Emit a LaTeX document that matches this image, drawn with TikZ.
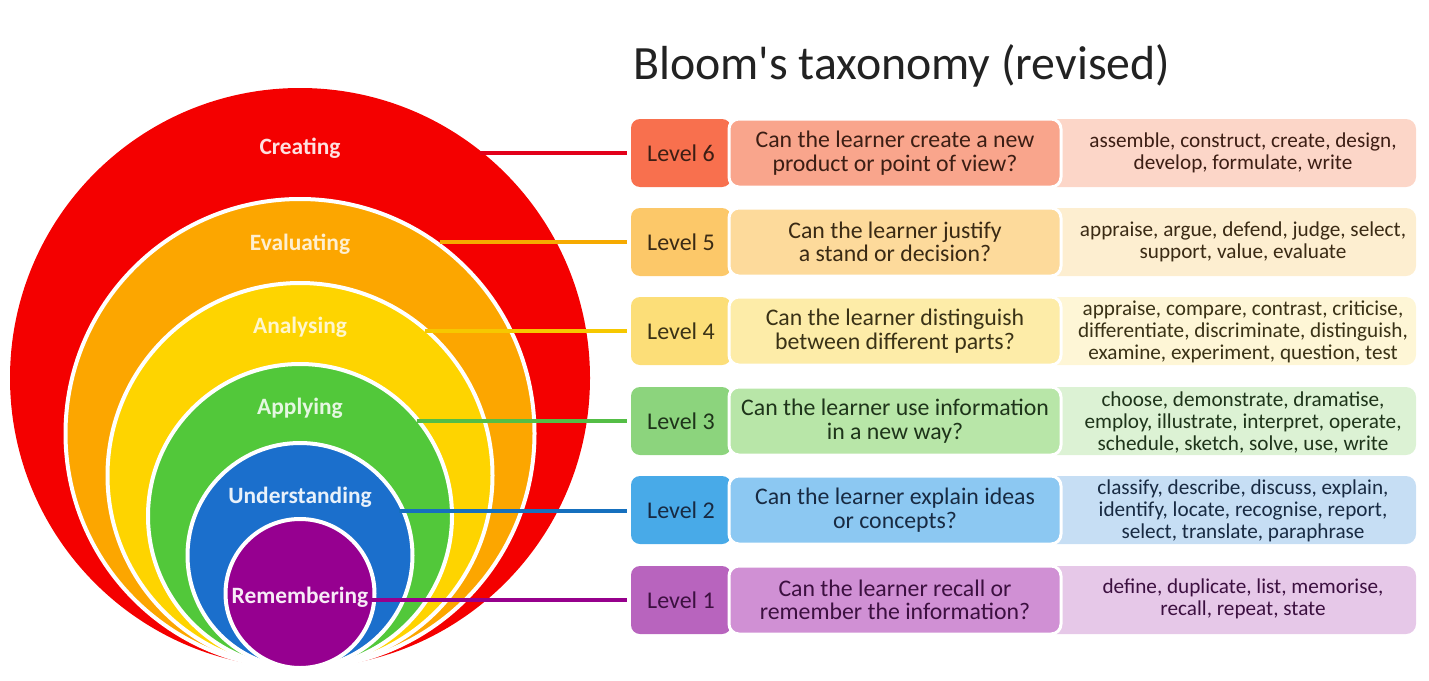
\documentclass[tikz,border=0pt]{standalone}
\usepackage{fontspec}
\setmainfont{Carlito}
% ring fills
\definecolor{ringRed}{RGB}{244,0,0}
\definecolor{ringOrange}{RGB}{252,166,0}
\definecolor{ringYellow}{RGB}{254,212,0}
\definecolor{ringGreen}{RGB}{82,200,58}
\definecolor{ringBlue}{RGB}{27,111,204}
\definecolor{ringPurple}{RGB}{150,0,144}
% connector colours
\definecolor{lnRed}{RGB}{226,0,26}
\definecolor{lnOrange}{RGB}{246,170,0}
\definecolor{lnYellow}{RGB}{246,200,0}
\definecolor{lnGreen}{RGB}{84,190,70}
\definecolor{lnBlue}{RGB}{22,112,190}
\definecolor{lnPurple}{RGB}{150,0,140}
% table colours: level / question / verbs
\definecolor{lvSix}{RGB}{248,112,78}   \definecolor{qSix}{RGB}{249,165,140}   \definecolor{vSix}{RGB}{252,214,200}
\definecolor{lvFive}{RGB}{252,200,105} \definecolor{qFive}{RGB}{253,218,155}  \definecolor{vFive}{RGB}{253,238,208}
\definecolor{lvFour}{RGB}{252,222,120} \definecolor{qFour}{RGB}{253,236,168}  \definecolor{vFour}{RGB}{254,246,214}
\definecolor{lvThree}{RGB}{140,212,125}\definecolor{qThree}{RGB}{184,230,168} \definecolor{vThree}{RGB}{220,242,212}
\definecolor{lvTwo}{RGB}{72,170,232}   \definecolor{qTwo}{RGB}{140,200,242}   \definecolor{vTwo}{RGB}{198,222,244}
\definecolor{lvOne}{RGB}{184,100,190}  \definecolor{qOne}{RGB}{208,144,212}   \definecolor{vOne}{RGB}{230,200,232}
% text colours
\definecolor{txSix}{RGB}{60,30,20}
\definecolor{txFive}{RGB}{58,42,20}
\definecolor{txFour}{RGB}{58,50,22}
\definecolor{txThree}{RGB}{30,52,26}
\definecolor{txTwo}{RGB}{24,42,66}
\definecolor{txOne}{RGB}{60,16,64}
\definecolor{titleInk}{RGB}{34,34,34}

\begin{document}
\begin{tikzpicture}[x=1pt,y=-1pt,
  ring/.style={circle,inner sep=0pt,minimum size=#1,draw=white,line width=4pt},
  ringlabel/.style={font=\bfseries\fontsize{23.4}{26}\selectfont,inner sep=0pt},
  link/.style={line width=4.5pt,shorten >=4pt},
  lvlbox/.style={rounded corners=9pt,minimum width=100pt,minimum height=68pt,inner sep=0pt,
                 font=\fontsize{24}{26}\selectfont},
  qbox/.style={draw=white,line width=3pt,rounded corners=10pt,minimum width=332pt,minimum height=68pt,
               inner sep=0pt,align=center,font=\fontsize{23.8}{23.5}\selectfont},
  vbox/.style={rounded corners=10pt,minimum width=370pt,minimum height=68pt,inner sep=0pt},
  vtext/.style={inner sep=0pt,align=center,font=\fontsize{21.2}{22}\selectfont}
]
\useasboundingbox (0,0) rectangle (1429,680);

% title
\node[anchor=base west,inner sep=0pt,text=titleInk,font=\fontsize{47.8}{50}\selectfont]
  (title) at (633,79) {Bloom\textquotesingle s taxonomy (revised)};

% nested rings, all touching at the bottom
\node[circle,inner sep=0pt,minimum size=580pt,fill=ringRed] (c6) at (300,378) {};
\node[ring=469pt,fill=ringOrange] (c5) at (300,433.5) {};
\node[ring=385pt,fill=ringYellow] (c4) at (300,475.5) {};
\node[ring=304pt,fill=ringGreen]  (c3) at (300,516) {};
\node[ring=225pt,fill=ringBlue]   (c2) at (300,555.5) {};
\node[ring=149pt,fill=ringPurple] (c1) at (300,593.5) {};

% ring labels
\node[ringlabel,text=white!88!ringRed]    (n6) at (300,148) {Creating};
\node[ringlabel,text=white!82!ringOrange] (n5) at (300,244) {Evaluating};
\node[ringlabel,text=white!80!ringYellow] (n4) at (300,327) {Analysing};
\node[ringlabel,text=white!85!ringGreen]  (n3) at (300,408) {Applying};
\node[ringlabel,text=white!90!ringBlue]   (n2) at (300,497) {Understanding};
\node[ringlabel,text=white!92!ringPurple] (n1) at (300,597) {Remembering};

% connector start points
\coordinate (s6) at (480,153);
\coordinate (s5) at (440,242);
\coordinate (s4) at (425,331);
\coordinate (s3) at (417,421);
\coordinate (s2) at (399,511);
\coordinate (s1) at (372,600);

% verbs boxes (behind the question boxes)
\node[vbox,fill=vSix]   (v6) at (1231,153) {};
\node[vbox,fill=vFive]  (v5) at (1231,242) {};
\node[vbox,fill=vFour]  (v4) at (1231,331) {};
\node[vbox,fill=vThree] (v3) at (1231,421) {};
\node[vbox,fill=vTwo]   (v2) at (1231,510) {};
\node[vbox,fill=vOne]   (v1) at (1231,600) {};

% level boxes
\node[lvlbox,fill=lvSix,text=txSix]     (lv6) at (681,153) {Level 6};
\node[lvlbox,fill=lvFive,text=txFive]   (lv5) at (681,242) {Level 5};
\node[lvlbox,fill=lvFour,text=txFour]   (lv4) at (681,331) {Level 4};
\node[lvlbox,fill=lvThree,text=txThree] (lv3) at (681,421) {Level 3};
\node[lvlbox,fill=lvTwo,text=txTwo]     (lv2) at (681,510) {Level 2};
\node[lvlbox,fill=lvOne,text=txOne]     (lv1) at (681,600) {Level 1};

% connectors
\draw[link,draw=lnRed]    (s6) -- (s6 -| lv6.west);
\draw[link,draw=lnOrange] (s5) -- (s5 -| lv5.west);
\draw[link,draw=lnYellow] (s4) -- (s4 -| lv4.west);
\draw[link,draw=lnGreen]  (s3) -- (s3 -| lv3.west);
\draw[link,draw=lnBlue]   (s2) -- (s2 -| lv2.west);
\draw[link,draw=lnPurple] (s1) -- (s1 -| lv1.west);

% question boxes
\node[qbox,fill=qSix,text=txSix]     (q6) at (895,153) {Can the learner create a new\\product or point of view?};
\node[qbox,fill=qFive,text=txFive]   (q5) at (895,242) {Can the learner justify\\a stand or decision?};
\node[qbox,fill=qFour,text=txFour]   (q4) at (895,331) {Can the learner distinguish\\between different parts?};
\node[qbox,fill=qThree,text=txThree] (q3) at (895,421) {Can the learner use information\\in a new way?};
\node[qbox,fill=qTwo,text=txTwo]     (q2) at (895,510) {Can the learner explain ideas\\or concepts?};
\node[qbox,fill=qOne,text=txOne]     (q1) at (895,600) {Can the learner recall or\\remember the information?};

% verbs
\node[vtext,text=txSix]   (w6) at (1243,153) {assemble, construct, create, design,\\develop, formulate, write};
\node[vtext,text=txFive]  (w5) at (1243,242) {appraise, argue, defend, judge, select,\\support, value, evaluate};
\node[vtext,text=txFour]  (w4) at (1243,332) {appraise, compare, contrast, criticise,\\differentiate, discriminate, distinguish,\\examine, experiment, question, test};
\node[vtext,text=txThree] (w3) at (1243,422) {choose, demonstrate, dramatise,\\employ, illustrate, interpret, operate,\\schedule, sketch, solve, use, write};
\node[vtext,text=txTwo]   (w2) at (1243,511) {classify, describe, discuss, explain,\\identify, locate, recognise, report,\\select, translate, paraphrase};
\node[vtext,text=txOne]   (w1) at (1243,599) {define, duplicate, list, memorise,\\recall, repeat, state};
\end{tikzpicture}
\end{document}
